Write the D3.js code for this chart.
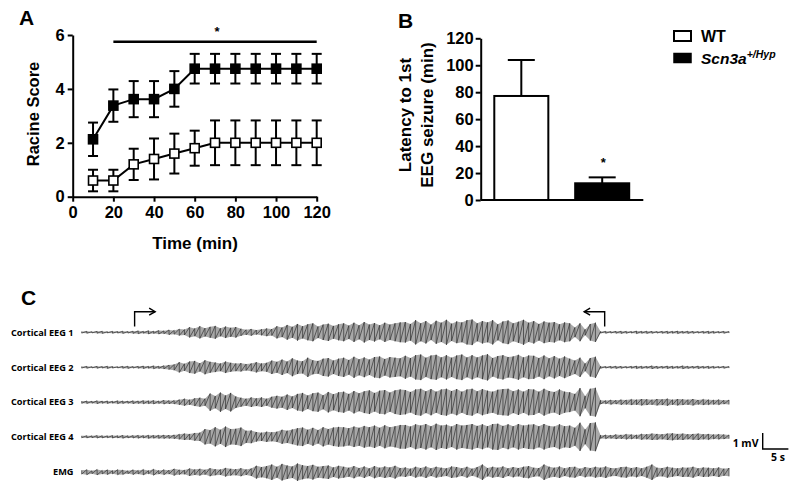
<!DOCTYPE html>
<html><head><meta charset="utf-8">
<script src="https://cdn.jsdelivr.net/npm/d3@7"></script>
<style>
body{margin:0;background:#fff;}
svg{display:block;}
text{font-family:"Liberation Sans",Arial,sans-serif;}
</style></head>
<body>
<svg id="chart" width="800" height="500"></svg>
<script>
// ---------- Panel A data ----------
const timeMin = [10,20,30,40,50,60,70,80,90,100,110,120];
const wtScore = [0.6,0.6,1.2,1.4,1.6,1.8,2,2,2,2,2,2];
const wtSem   = [0.4,0.4,0.58,0.76,0.74,0.65,0.83,0.83,0.83,0.83,0.83,0.83];
const hypScore = [2.13,3.38,3.62,3.62,4.0,4.75,4.75,4.75,4.75,4.75,4.75,4.75];
const hypSem   = [0.62,0.6,0.67,0.67,0.66,0.55,0.55,0.55,0.55,0.55,0.55,0.55];
const sigRangeA = [20,120];
const xTicksA = [0,20,40,60,80,100,120];
const yTicksA = [0,2,4,6];
// ---------- Panel B data ----------
const groups = ["WT","Scn3a"];
const latencyMean = [77.2,12.4];
const latencySem = [26.7,4.4];
const yTicksB = [0,20,40,60,80,100,120];
// ---------- Panel C data (half-range per 1 s bin, µV) ----------
const traceNames = ["Cortical EEG 1","Cortical EEG 2","Cortical EEG 3","Cortical EEG 4","EMG"];
const eeg1 = [50,60,40,60,70,40,60,50,70,50, 70,90,60,100,70,110,90, 150,120,200,170,
 320,240,380,260,340,400,250,360,280,330, 220,160,210,140,190,240,200,
 380,300,460,340,520,380,500,560,360,480,540,400,500,
 560,420,600,440,640,480,580,440,600,480,560,620,
 640,520,760,560,700,480,720,600,780,540,680,620,760,
 800,560,700,620,760,500,680,740,560,660,780,600,
 700,520,680,600,640,500,620,560, 300,560,180,520,600,
 50,60,50,60,70,60,50,80,60,70,60,50,60,70,60,80,60,70,60,50,60,70,60,50,60,50];
const eeg2 = [50,60,40,60,50,70,50,40,60,70,50,60,80,60,90,70,100, 140,180,
 320,220,360,400,260,440,340,300,240,360,280,240, 260,200,240,320,240,280,
 420,340,480,360,560,420,380,600,440,400,540,580,420,540,
 600,460,660,500,620,480,640,680,520,640,600,560,
 720,580,760,800,600,740,780,620,760,600,740,800,620,
 760,620,740,820,580,700,760,640,680,780,620,740,
 720,580,740,560,700,540,680,540, 420,600,240,580,660,
 60,50,60,70,60,50,60,80,70,60,90,70,60,80,70,60,90,70,60,80,60,70,60,50,60,50];
const eeg3 = [70,80,60,90,70,80,60,90,80,70,90,80,100,90,110,80,120,100,110,
 160,220,160,240,280,220, 540,380,600,420,580,360, 280,220,300,240,300,220,340,
 400,340,480,360,520,580,420,560,600,440,640,500,620,
 660,520,700,560,680,740,580,720,760,600,740,800,
 760,640,800,840,680,820,660,800,840,700,820,660,800,
 840,680,820,720,660,780,820,840,680,800,660,820,
 800,660,840,700,640,800,660,620, 520,880,380,840,900,
 120,100,140,120,160,140,180,160,200,180,160,200,180,220,160,200,180,160,200,140,180,160,140,160,120,140];
const eeg4 = [60,70,60,80,70,60,80,70,90,70,80,90,80,100,90,100,110,100,120,
 160,200,180,240,260, 480,420,600,440,640,480,500,580,380,400, 300,260,320,280,320,
 440,380,460,540,580,440,560,420,600,480,580,620,
 600,540,640,560,680,600,700,560,720,600,660,740,
 740,640,780,700,800,660,820,700,760,640,800,700,740,
 800,680,780,660,800,820,680,780,660,800,700,760,
 780,660,800,680,640,780,660,700, 560,880,460,860,900,
 100,120,100,140,120,160,140,120,180,160,200,180,160,200,220,180,200,160,180,200,160,180,140,160,140,120];
const emg = [120,160,90,170,110,150,100,160,140,90,150,110,170,100,190,110,160,120,210,150,130,230,170,210,150,250,190,170,270,210,190,250,170,230,
 400,320,380,480,340,520,420,360,540,440,380,460,340,380,420,300,400,
 340,280,380,260,360,240,380,280,360,300,400,260,
 300,220,340,260,360,240,340,280,240,360, 320,240,340,220,320,480,260,340,280,360,
 240,320,260,340,380,280,260,480,340,280, 360,240,320,340,220,320,260,340,280,360,
 260,240,320,340,260,320,240,340,480,280, 260,340,280,240,300,280,340,240,300,280,
 240,300,220,260];
const traces = [eeg1,eeg2,eeg3,eeg4,emg];
const seizureOnset = 10.3, seizureOffset = 101.8; // s
const scaleBarMV = 1, scaleBarS = 5;

const svg = d3.select("#chart");
const bold = "bold";

// ================= Panel A =================
const xA = d3.scaleLinear().domain([0,120]).range([72.7,316.7]);
const yA = d3.scaleLinear().domain([0,6]).range([196.7,35]);
const gA = svg.append("g");
function styleAxis(g){
  g.selectAll("path.domain").attr("stroke","#000").attr("stroke-width",2);
  g.selectAll(".tick line").attr("stroke","#000").attr("stroke-width",2);
  g.selectAll(".tick text").attr("fill","#000").style("font-size","16.5px").style("font-weight","bold")
   .style("font-family",'"Liberation Sans",Arial,sans-serif');
}
gA.append("g").attr("transform",`translate(0,${yA(0)})`)
  .call(d3.axisBottom(xA).tickValues(xTicksA).tickFormat(d3.format("d")).tickSize(5).tickPadding(5).tickSizeOuter(0))
  .call(styleAxis);
gA.append("g").attr("transform",`translate(${xA(0)},0)`)
  .call(d3.axisLeft(yA).tickValues(yTicksA).tickFormat(d3.format("d")).tickSize(5).tickPadding(3).tickSizeOuter(0))
  .call(styleAxis);

function drawSeries(vals, sems, fill){
  const pts = timeMin.map((t,i)=>({t, v:vals[i], s:sems[i]}));
  const eb = gA.append("g").attr("stroke","#000").attr("stroke-width",2);
  pts.forEach(p=>{
    eb.append("line").attr("x1",xA(p.t)).attr("x2",xA(p.t)).attr("y1",yA(p.v-p.s)).attr("y2",yA(p.v+p.s));
    [p.v-p.s,p.v+p.s].forEach(e=>eb.append("line").attr("x1",xA(p.t)-5).attr("x2",xA(p.t)+5).attr("y1",yA(e)).attr("y2",yA(e)));
  });
  gA.append("path").datum(pts).attr("fill","none").attr("stroke","#000").attr("stroke-width",2)
    .attr("d",d3.line().x(d=>xA(d.t)).y(d=>yA(d.v)));
  gA.selectAll(null).data(pts).enter().append("rect")
    .attr("x",d=>xA(d.t)-4.5).attr("y",d=>yA(d.v)-4.5).attr("width",9).attr("height",9)
    .attr("fill",fill).attr("stroke","#000").attr("stroke-width",1.6);
}
drawSeries(wtScore, wtSem, "#fff");
drawSeries(hypScore, hypSem, "#000");
gA.append("line").attr("x1",xA(sigRangeA[0])).attr("x2",xA(sigRangeA[1])).attr("y1",41.7).attr("y2",41.7)
  .attr("stroke","#000").attr("stroke-width",2.5);
gA.append("text").attr("x",xA((sigRangeA[0]+sigRangeA[1])/2)+2).attr("y",36).attr("text-anchor","middle")
  .style("font-size","13px").style("font-weight",bold).text("*");
gA.append("text").attr("transform","translate(39,114) rotate(-90)").attr("text-anchor","middle")
  .style("font-size","16.5px").style("font-weight",bold).text("Racine Score");
gA.append("text").attr("x",195).attr("y",249).attr("text-anchor","middle")
  .style("font-size","17px").style("font-weight",bold).text("Time (min)");
svg.append("text").attr("x",19).attr("y",25).style("font-size","21px").style("font-weight",bold).text("A");

// ================= Panel B =================
const xB = d3.scaleBand().domain(groups).range([480.7,642.8]).paddingInner(0.332).paddingOuter(0.168);
const yB = d3.scaleLinear().domain([0,120]).range([200,38.3]);
const gB = svg.append("g");
gB.append("g").attr("transform",`translate(${xB.range()[0]},0)`)
  .call(d3.axisLeft(yB).tickValues(yTicksB).tickFormat(d3.format("d")).tickSize(5).tickPadding(2).tickSizeOuter(0))
  .call(styleAxis);
gB.append("line").attr("x1",xB.range()[0]).attr("x2",643.3).attr("y1",yB(0)).attr("y2",yB(0))
  .attr("stroke","#000").attr("stroke-width",2);
const fillsB = ["#fff","#000"];
groups.forEach((g,i)=>{
  const cx = xB(g)+xB.bandwidth()/2;
  gB.append("line").attr("x1",cx).attr("x2",cx).attr("y1",yB(latencyMean[i])).attr("y2",yB(latencyMean[i]+latencySem[i]))
    .attr("stroke","#000").attr("stroke-width",2);
  gB.append("line").attr("x1",cx-13.5).attr("x2",cx+13.5).attr("y1",yB(latencyMean[i]+latencySem[i])).attr("y2",yB(latencyMean[i]+latencySem[i]))
    .attr("stroke","#000").attr("stroke-width",2);
  gB.append("rect").attr("x",xB(g)).attr("y",yB(latencyMean[i])).attr("width",xB.bandwidth())
    .attr("height",yB(0)-yB(latencyMean[i])).attr("fill",fillsB[i]).attr("stroke","#000").attr("stroke-width",2);
});
gB.append("text").attr("x",xB(groups[1])+xB.bandwidth()/2+1).attr("y",167).attr("text-anchor","middle")
  .style("font-size","13px").style("font-weight",bold).text("*");
gB.append("text").attr("transform","translate(411,115) rotate(-90)").attr("text-anchor","middle")
  .style("font-size","17px").style("font-weight",bold).text("Latency to 1st");
gB.append("text").attr("transform","translate(433,115) rotate(-90)").attr("text-anchor","middle")
  .style("font-size","17px").style("font-weight",bold).text("EEG seizure (min)");
svg.append("text").attr("x",398).attr("y",28).style("font-size","21px").style("font-weight",bold).text("B");
// legend
const lg = svg.append("g");
lg.append("rect").attr("x",674).attr("y",31).attr("width",17).attr("height",10).attr("fill","#fff").attr("stroke","#000").attr("stroke-width",2);
lg.append("rect").attr("x",674).attr("y",53.5).attr("width",17).attr("height",9).attr("fill","#000").attr("stroke","#000").attr("stroke-width",1.5);
lg.append("text").attr("x",701).attr("y",42).style("font-size","16px").style("font-weight",bold).text("WT");
const t2 = lg.append("text").attr("x",701).attr("y",64).style("font-size","15.5px").style("font-weight",bold).style("font-style","italic");
t2.append("tspan").text(groups[1]);
t2.append("tspan").attr("dy",-6).style("font-size","10.5px").text("+/Hyp");

// ================= Panel C =================
const xT = d3.scaleLinear().domain([0,126]).range([81.7,729]);
const baselines = [332.3,367.3,402.2,436.8,472.2];
const mvPx = 16; // px per mV
svg.append("text").attr("x",21).attr("y",305).style("font-size","21px").style("font-weight",bold).text("C");
const gC = svg.append("g");
traces.forEach((arr,k)=>{
  const yT = d3.scaleLinear().domain([-1,1]).range([baselines[k]+mvPx, baselines[k]-mvPx]);
  const env = arr.map((a,i)=>({t:i, a:a/1000}));
  // min/max envelope of each 1 s bin
  gC.append("path").attr("fill","#a8a8a8").attr("stroke","none")
    .attr("d", d3.area().x(d=>xT(d.t)).y0(d=>yT(-d.a)).y1(d=>yT(d.a))(env));
  const pts = [];
  env.forEach(d=>{ pts.push([d.t, d.a]); pts.push([d.t, -d.a]); });
  gC.append("path").attr("fill","none").attr("stroke","#262626").attr("stroke-width",0.65)
    .attr("d", d3.line().x(d=>xT(d[0])).y(d=>yT(d[1]))(pts));
  gC.append("text").attr("x",73.5).attr("y",baselines[k]).attr("dy","0.35em").attr("text-anchor","end")
    .style("font-family",'"Open Sans",sans-serif').style("font-size","9.2px").style("font-weight",bold)
    .text(traceNames[k]);
});
// onset / offset arrows
const arrowTop = 311.7, arrowBot = 326.5;
function arrow(t, dir){
  const x0 = xT(t), x1 = xT(t + dir*4);
  const g = gC.append("g").attr("fill","none").attr("stroke","#000").attr("stroke-width",1.4);
  g.append("path").attr("d",`M${x0},${arrowBot}V${arrowTop}H${x1}`);
  g.append("path").attr("d",`M${x1-dir*6},${arrowTop-3.5}L${x1},${arrowTop}L${x1-dir*6},${arrowTop+3.5}`);
}
arrow(seizureOnset, 1);
arrow(seizureOffset, -1);
// scale bar
const sbX = 762.7, sbY = 449;
gC.append("path").attr("fill","none").attr("stroke","#000").attr("stroke-width",1.4)
  .attr("d",`M${sbX},${sbY - scaleBarMV*mvPx}V${sbY}H${sbX + xT(scaleBarS)-xT(0)}`);
gC.append("text").attr("x",758.5).attr("y",443.5).attr("dy","0.35em").attr("text-anchor","end")
  .style("font-family",'"Open Sans",sans-serif').style("font-size","10.5px").style("font-weight",bold).text("1 mV");
gC.append("text").attr("x",778).attr("y",457.5).attr("dy","0.35em").attr("text-anchor","middle")
  .style("font-family",'"Open Sans",sans-serif').style("font-size","10.5px").style("font-weight",bold).text("5 s");
</script>
</body></html>
